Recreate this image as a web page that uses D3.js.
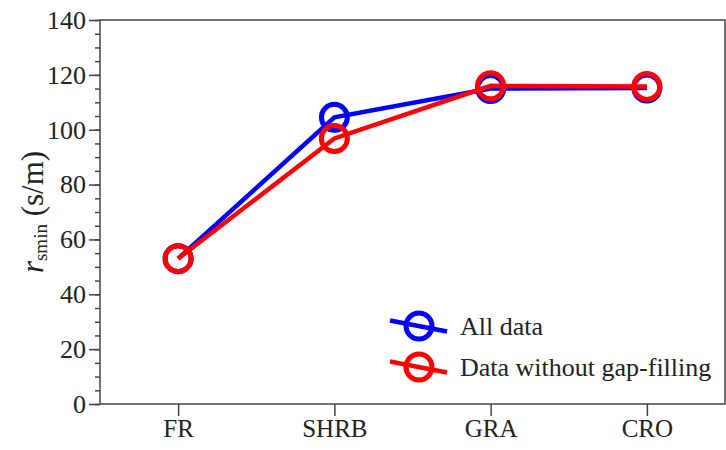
<!DOCTYPE html>
<html>
<head>
<meta charset="utf-8">
<script src="https://cdn.jsdelivr.net/npm/d3@7"></script>
<style>
  body { margin: 0; background: #fff; }
</style>
</head>
<body>
<script>
const categories = ["FR", "SHRB", "GRA", "CRO"];
const allData = [53, 104.5, 115, 115.2];
const noGapFill = [53, 96.8, 116, 115.8];
const seriesNames = ["All data", "Data without gap-filling"];
const seriesColors = ["#0000ff", "#ff0000"];
const yTicks = [0, 20, 40, 60, 80, 100, 120, 140];

const w = 726;
const h = 450;
const padLeft = 100, padRight = 725, padTop = 20, padBottom = 404;
const serif = "'Liberation Serif', 'Times New Roman', serif";

const svg = d3.select("body")
  .append("svg")
  .attr("width", w)
  .attr("height", h);

const xScale = d3.scalePoint()
  .domain(categories)
  .range([padLeft, padRight])
  .padding(0.5);

const yScale = d3.scaleLinear()
  .domain([0, 140])
  .range([padBottom, padTop]);

// frame
svg.append("rect")
  .attr("x", padLeft)
  .attr("y", padTop)
  .attr("width", padRight - padLeft)
  .attr("height", padBottom - padTop)
  .attr("fill", "none")
  .attr("stroke", "#444")
  .attr("stroke-width", 1.5);

// minor ticks on y
svg.append("g")
  .attr("transform", "translate(" + padLeft + ",0)")
  .call(d3.axisLeft(yScale).tickValues(d3.range(0, 141, 5)).tickSize(5).tickFormat(""))
  .call(g => g.select(".domain").remove())
  .call(g => g.selectAll("line").attr("stroke", "#444").attr("stroke-width", 1.5));

// major ticks on y
svg.append("g")
  .attr("transform", "translate(" + padLeft + ",0)")
  .call(d3.axisLeft(yScale).tickValues(yTicks).tickSize(11).tickPadding(3))
  .call(g => g.select(".domain").remove())
  .call(g => g.selectAll("line").attr("stroke", "#444").attr("stroke-width", 1.5))
  .call(g => g.selectAll("text").style("font-size", "26px").style("font-family", serif).attr("fill", "#222"));

// x axis
svg.append("g")
  .attr("transform", "translate(0," + padBottom + ")")
  .call(d3.axisBottom(xScale).tickSize(12).tickPadding(3))
  .call(g => g.select(".domain").remove())
  .call(g => g.selectAll("line").attr("stroke", "#444").attr("stroke-width", 1.5))
  .call(g => g.selectAll("text").style("font-size", "25px").style("font-family", serif).attr("fill", "#222"));

// y label
const yl = svg.append("text")
  .attr("transform", "translate(43," + ((padTop + padBottom) / 2) + ") rotate(-90)")
  .attr("text-anchor", "middle")
  .attr("fill", "#222")
  .style("font-family", serif)
  .style("font-size", "31px");
yl.append("tspan").style("font-style", "italic").text("r");
yl.append("tspan").style("font-size", "19px").attr("dy", 4).text("smin");
yl.append("tspan").attr("dy", -4).text(" (s/m)");

// lines + markers
const series = [allData, noGapFill];
const line = d3.line()
  .x((d, i) => xScale(categories[i]))
  .y(d => yScale(d));

series.forEach((vals, k) => {
  svg.append("path")
    .datum(vals)
    .attr("d", line)
    .attr("fill", "none")
    .attr("stroke", seriesColors[k])
    .attr("stroke-width", 4.5);
  svg.selectAll(".m" + k)
    .data(vals)
    .enter()
    .append("circle")
    .attr("class", "m" + k)
    .attr("cx", (d, i) => xScale(categories[i]))
    .attr("cy", d => yScale(d))
    .attr("r", 13)
    .attr("fill", "none")
    .attr("stroke", seriesColors[k])
    .attr("stroke-width", 5);
});

// legend
const legend = svg.append("g");
seriesNames.forEach((name, k) => {
  const cy = 326 + k * 41;
  legend.append("line")
    .attr("x1", 390).attr("y1", cy - 5.5)
    .attr("x2", 447).attr("y2", cy + 5.5)
    .attr("stroke", seriesColors[k])
    .attr("stroke-width", 4.5);
  legend.append("circle")
    .attr("cx", 419).attr("cy", cy)
    .attr("r", 13)
    .attr("fill", "none")
    .attr("stroke", seriesColors[k])
    .attr("stroke-width", 5);
  legend.append("text")
    .attr("x", 460)
    .attr("y", cy + 9)
    .attr("fill", "#222")
    .style("font-family", serif)
    .style("font-size", "26px")
    .text(name);
});
</script>
</body>
</html>
